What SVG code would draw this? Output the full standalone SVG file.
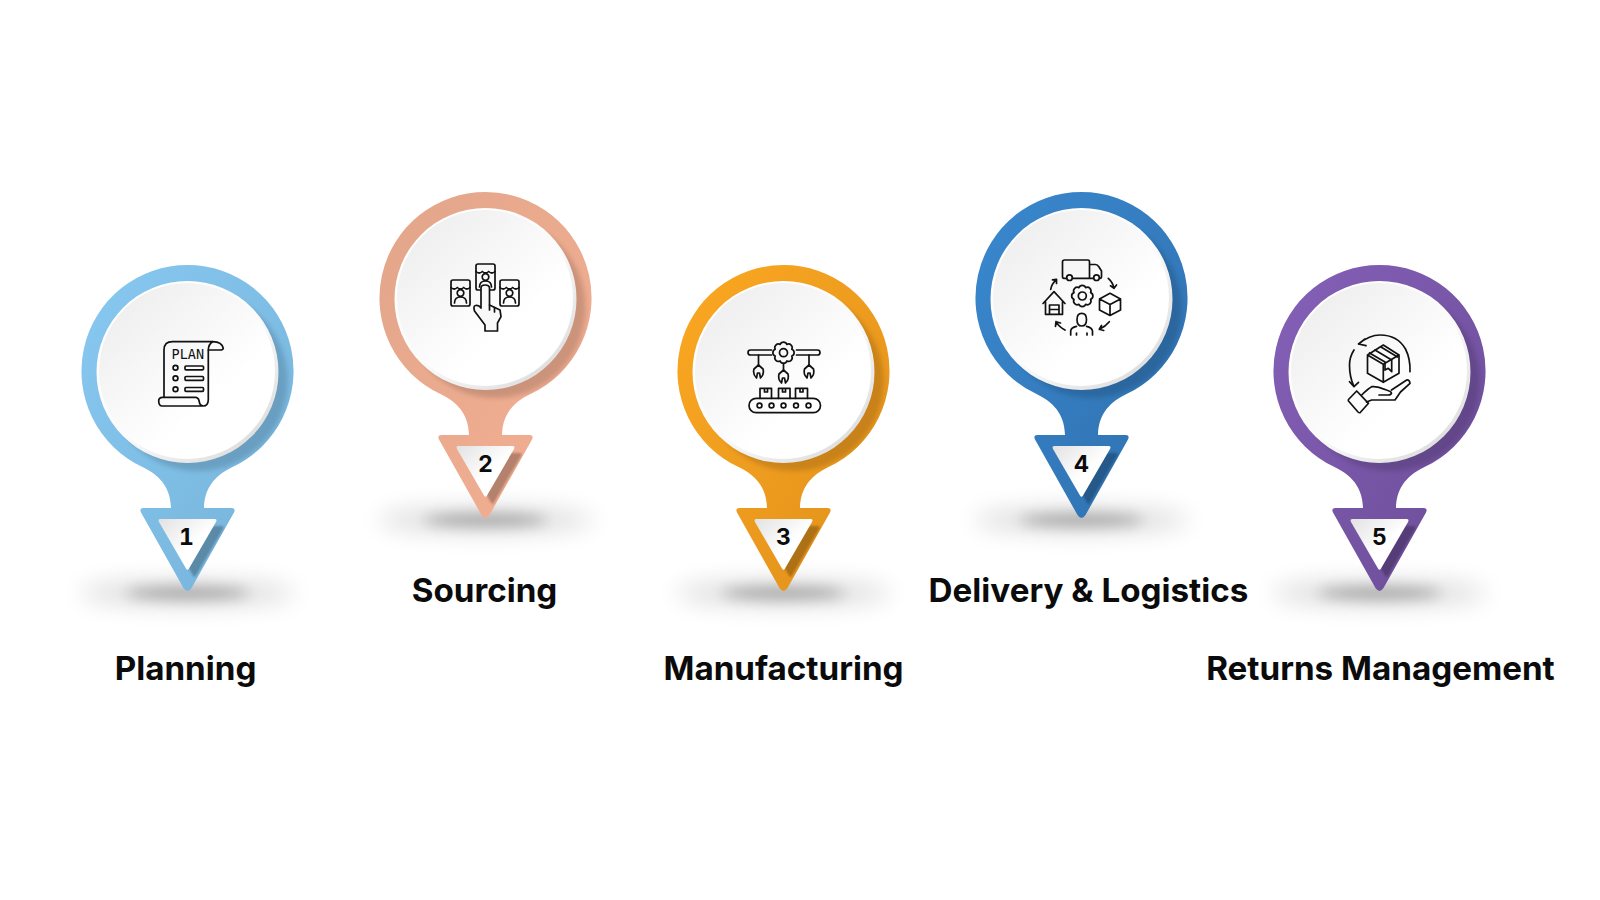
<svg xmlns="http://www.w3.org/2000/svg" width="1600" height="900" viewBox="0 0 1600 900">
<style>
.lbl{font-family:Inter,"Liberation Sans",sans-serif;font-weight:700;font-size:33.200px;fill:#0b0b0b;text-anchor:middle}
.num{font-family:Inter,"Liberation Sans",sans-serif;font-weight:700;font-size:23px;fill:#0b0b0b;text-anchor:middle;font-variant-numeric:tabular-nums}
.ic{fill:none;stroke:#111;stroke-width:1.7;stroke-linecap:round;stroke-linejoin:round}
.ict{font-family:"DejaVu Sans Mono",monospace;font-size:13.5px;fill:#111}
</style>
<defs>
<linearGradient id="rim" x1="0.15" y1="0.1" x2="0.85" y2="0.9"><stop offset="0" stop-color="#fff"/><stop offset=".55" stop-color="#fafafa"/><stop offset="1" stop-color="#dedede"/></linearGradient>
<linearGradient id="face" x1="0.15" y1="0.1" x2="0.85" y2="0.9"><stop offset="0" stop-color="#efefef"/><stop offset=".7" stop-color="#fff"/></linearGradient>
<linearGradient id="tface" x1="0" y1="0" x2="1" y2="1"><stop offset="0" stop-color="#e2e2e2"/><stop offset="0.55" stop-color="#fff"/></linearGradient>
<linearGradient id="g1" x1="0" y1="0" x2="1" y2="1"><stop offset="0" stop-color="#88c9f1"/><stop offset="1" stop-color="#75b2d9"/></linearGradient>
<linearGradient id="g2" x1="0" y1="0" x2="1" y2="1"><stop offset="0" stop-color="#e2a68b"/><stop offset="1" stop-color="#f4af92"/></linearGradient>
<linearGradient id="g3" x1="0" y1="0" x2="1" y2="1"><stop offset="0" stop-color="#fba821"/><stop offset="1" stop-color="#e0901c"/></linearGradient>
<linearGradient id="g4" x1="0" y1="0" x2="1" y2="1"><stop offset="0" stop-color="#3a88cf"/><stop offset="1" stop-color="#2f70ae"/></linearGradient>
<linearGradient id="g5" x1="0" y1="0" x2="1" y2="1"><stop offset="0" stop-color="#8560b8"/><stop offset="1" stop-color="#6b4c96"/></linearGradient>
<filter id="b3" x="-20%" y="-20%" width="140%" height="140%"><feGaussianBlur stdDeviation="2.500"/></filter>
<filter id="b1" x="-20%" y="-20%" width="140%" height="140%"><feGaussianBlur stdDeviation="1"/></filter>
<filter id="bs" x="-40%" y="-200%" width="180%" height="500%"><feGaussianBlur stdDeviation="12"/></filter>
<filter id="bc" x="-40%" y="-200%" width="180%" height="500%"><feGaussianBlur stdDeviation="7"/></filter>
<path id="body" d="M0 -106A106 106 0 0 1 45 96C24 106 17 120 16.500 137L44 137Q48.500 137 46.500 141.500L4 217Q0 223 -4 217L-46.500 141.500Q-48.500 137 -44 137L-16.500 137C-17 120 -24 106 -45 96A106 106 0 0 1 0 -106Z"/>
<clipPath id="cb"><use href="#body"/></clipPath>
<path id="tri" d="M-27 148L27 148Q30 148 28.500 151L1.500 197.500Q0 200 -1.500 197.500L-28.500 151Q-30 148 -27 148Z"/>
<g id="ground">
<ellipse cy="222" rx="108" ry="12" fill="#000" opacity=".15" filter="url(#bs)"/>
<ellipse cy="222" rx="62" ry="6" fill="#000" opacity=".28" filter="url(#bc)"/>
</g>
<g id="shade"><g clip-path="url(#cb)">
<circle cx="10" cy="10" r="90" fill="#000" opacity=".14" filter="url(#b3)"/>
<use href="#tri" x="7" y="7" fill="#000" opacity=".25" filter="url(#b1)"/>
</g></g>
<g id="disc">
<circle r="91" cy="1" fill="url(#rim)"/>
<circle r="88" cx="-.5" cy="0" fill="url(#face)"/>
<use href="#tri" fill="url(#tface)"/>
</g>
<path id="gear" d="M8.300 -3.400A3.650 3.650 0 0 1 8.300 3.400A3.650 3.650 0 0 1 3.400 8.300A3.650 3.650 0 0 1 -3.400 8.300A3.650 3.650 0 0 1 -8.300 3.400A3.650 3.650 0 0 1 -8.300 -3.400A3.650 3.650 0 0 1 -3.400 -8.300A3.650 3.650 0 0 1 3.400 -8.300A3.650 3.650 0 0 1 8.300 -3.400Z"/>
<g id="shop"><rect x="-9.500" y="-13" width="19" height="26" rx="2"/><path d="M-9.500 -5.500Q-6.300 -2.500 -3.200 -5.500Q0 -2.500 3.200 -5.500Q6.300 -2.500 9.500 -5.500"/><circle cy="0" r="3.300"/><path d="M-6 10Q-6 4 0 4Q6 4 6 10"/></g>
<path id="claw" d="M0 0L-4.500 4Q-6 9 -2 13M0 0L4.500 4Q6 9 2 13M-2 13L-1 8L1 8L2 13"/>
</defs>
<rect width="1600" height="900" fill="#fff"/>

<g id="connectors"></g>

<g id="pin-1" transform="translate(187.500 371)">
<use href="#ground"/><use href="#body" fill="url(#g1)"/><use href="#shade"/><use href="#disc"/>
<text class="num" x="-1" y="174">1</text>
<g class="ic">
<path d="M-23.500 26V-21Q-23.500 -29.300 -15 -29.300H25.200Q21 -27 20.800 -21V29Q20.500 35 15.800 35H-25.800Q-28.800 34.500 -28.800 30Q-28.800 26.300 -25 26.300H8.500Q11.500 27 11.800 31Q12.500 35 15.800 35"/>
<path d="M25.200 -29.300Q34.500 -29 35.800 -22.700Q35.500 -21 32.500 -21H21"/>
<rect x="-2.500" y="-5" width="18.500" height="3.800" rx="1"/><rect x="-2.500" y="5.500" width="18.500" height="3.800" rx="1"/><rect x="-2.500" y="16.500" width="18.500" height="3.800" rx="1"/>
<circle cx="-12" cy="-3.200" r="2.400"/><circle cx="-12" cy="7.300" r="2.400"/><circle cx="-12" cy="18.300" r="2.400"/>
<text class="ict" x="-16" y="-12" stroke="none">PLAN</text>
</g>
</g>

<g id="pin-2" transform="translate(485.500 298)">
<use href="#ground"/><use href="#body" fill="url(#g2)"/><use href="#shade"/><use href="#disc"/>
<text class="num" y="174">2</text>
<g class="ic">
<use href="#shop" x="-25" y="-5"/><use href="#shop" x="0" y="-21"/><use href="#shop" x="24" y="-5"/>
<path fill="#f8f8f8" d="M-4.500 10V-10Q-4.500 -13 -.5 -13Q4 -13 4 -10V7L14.500 12L15.500 18.700L12 25V33H-.5V27L-11 13Q-12.500 8 -10 7.500Q-7 6.500 -4.500 10Z"/>
<path d="M4 7V12M9 9.500V14"/>
</g>
</g>

<g id="pin-3" transform="translate(783.500 371)">
<use href="#ground"/><use href="#body" fill="url(#g3)"/><use href="#shade"/><use href="#disc"/>
<text class="num" y="174">3</text>
<g class="ic">
<path d="M-12 -21H-33Q-35.500 -21 -35.500 -18.500Q-35.500 -16 -33 -16H-12M13 -21H34Q36.500 -21 36.500 -18.500Q36.500 -16 34 -16H13"/>
<use href="#gear" y="-18.300"/><circle cy="-18.300" r="4"/>
<path d="M-25 -16V-6M0 -7.700V-1M25.500 -16V-6"/>
<use href="#claw" x="-25" y="-6"/><use href="#claw" y="-1"/><use href="#claw" x="25.500" y="-6"/>
<rect x="-34.500" y="27.300" width="71.500" height="14.400" rx="7.200"/>
<path d="M-23.500 27.300V17.300H-12V27.300M-5 27.300V17.300H6.500V27.300M12 27.300V17.300H24V27.300M-19 17.300V21H-16V17.300M-1 17.300V21H2V17.300M16.500 17.300V21H19.500V17.300"/>
<circle cx="-24" cy="34.500" r="2.400"/><circle cx="-12" cy="34.500" r="2.400"/><circle cx="0" cy="34.500" r="2.400"/><circle cx="12.500" cy="34.500" r="2.400"/><circle cx="25" cy="34.500" r="2.400"/>
</g>
</g>

<g id="pin-4" transform="translate(1081.500 298)">
<use href="#ground"/><use href="#body" fill="url(#g4)"/><use href="#shade"/><use href="#disc"/>
<text class="num" y="174">4</text>
<g class="ic">
<path d="M-15 -19.700H-17.500Q-19 -19.700 -19 -21.500V-36Q-19 -38 -17 -38H6.500Q8 -38 8 -36V-19.700H-9M8 -33.500H14Q16 -33.500 17.500 -31L20 -27V-21.500Q20 -19.700 18.500 -19.700M8 -19.700H12"/>
<circle cx="-12" cy="-20.300" r="2.800"/><circle cx="15" cy="-20.300" r="2.800"/>
<use href="#gear" x=".8" y="-2"/><circle cx=".8" cy="-2" r="4"/>
<path d="M-38.500 5.500L-27.500 -6.300L-16.500 5.500M-36 3.500V16.300H-19V3.500M-32 16.300V7H-22.500V16.300M-32 11.500H-22.500"/>
<path d="M28.500 -4.700L39 1V12L28.500 17.500L18 12V1ZM18 1L28.500 6.500L39 1M28.500 6.500V17.500"/>
<path d="M0.200 15.300Q-4.500 15.300 -4.500 21.500Q-4.500 28 0.200 28Q5 28 5 21.500Q5 15.300 0.200 15.300ZM-10.800 37V33Q-10.500 29.500 -5 28.300M11 37V33Q10.500 29.500 5 28.300M-5 35V37M5.500 35V37"/>
<path d="M-30.800 -8.700Q-30 -14 -25 -18.700M-25 -18.700L-29 -18.200M-25 -18.700L-25 -14.500"/>
<path d="M26.800 -19.700Q31.500 -15.500 32.500 -9.700M32.500 -9.700L29 -12.200M32.500 -9.700L35 -13"/>
<path d="M27.800 23.700Q24 28.500 17.800 31.300M17.800 31.300L20 27.500M17.800 31.300L22.200 32.500"/>
<path d="M-16.500 32Q-22.500 29 -25.500 23.700M-25.500 23.700L-26 28.300M-25.500 23.700L-21 25"/>
</g>
</g>

<g id="pin-5" transform="translate(1379.500 371)">
<use href="#ground"/><use href="#body" fill="url(#g5)"/><use href="#shade"/><use href="#disc"/>
<text class="num" y="174">5</text>
<g class="ic">
<path d="M-21 -27Q-10 -36 0.500 -36Q18 -36 26 -22Q31 -12 30.500 0.700M-21 -27L-14.500 -32M-21 -27L-13.500 -25.300"/>
<path d="M-25.500 -21Q-30 -14 -30 -6Q-30 6 -25.500 15.700M-25.500 15.700L-30 10.700M-25.500 15.700L-21 11.300"/>
<path d="M3.800 -26L19.500 -16V2.300L3.800 11.300L-12 2.300V-16ZM-12 -16L3.800 -6.700L19.500 -16M3.800 -6.700V11.300"/>
<path d="M-4.500 -21L12.200 -11V0.700L8.800 -2.700L5.500 -1V-9L-10 -18M1.500 -24L18 -14"/>
<path d="M-22.800 20L-11 32.300L-19.500 41.700Q-20.500 42 -21.500 41L-31 30Q-31.500 29 -31 28.500Z"/>
<path d="M-17.800 24Q-12 18 -7.800 15.700Q-3 15 7 19Q12 20.500 12 22.300Q11.500 24 8.800 24H-.5M12 19L27.200 9Q30 8.500 30.500 12.300L21 21L15.500 29H-7.800L-13 31"/>
</g>
</g>

<g id="labels">
<text class="lbl" x="185.500" y="680">Planning</text>
<text class="lbl" x="484.500" y="602">Sourcing</text>
<text class="lbl" x="783.500" y="680">Manufacturing</text>
<text class="lbl" x="1088.500" y="602">Delivery &amp; Logistics</text>
<text class="lbl" x="1380.500" y="680">Returns Management</text>
</g>
</svg>
